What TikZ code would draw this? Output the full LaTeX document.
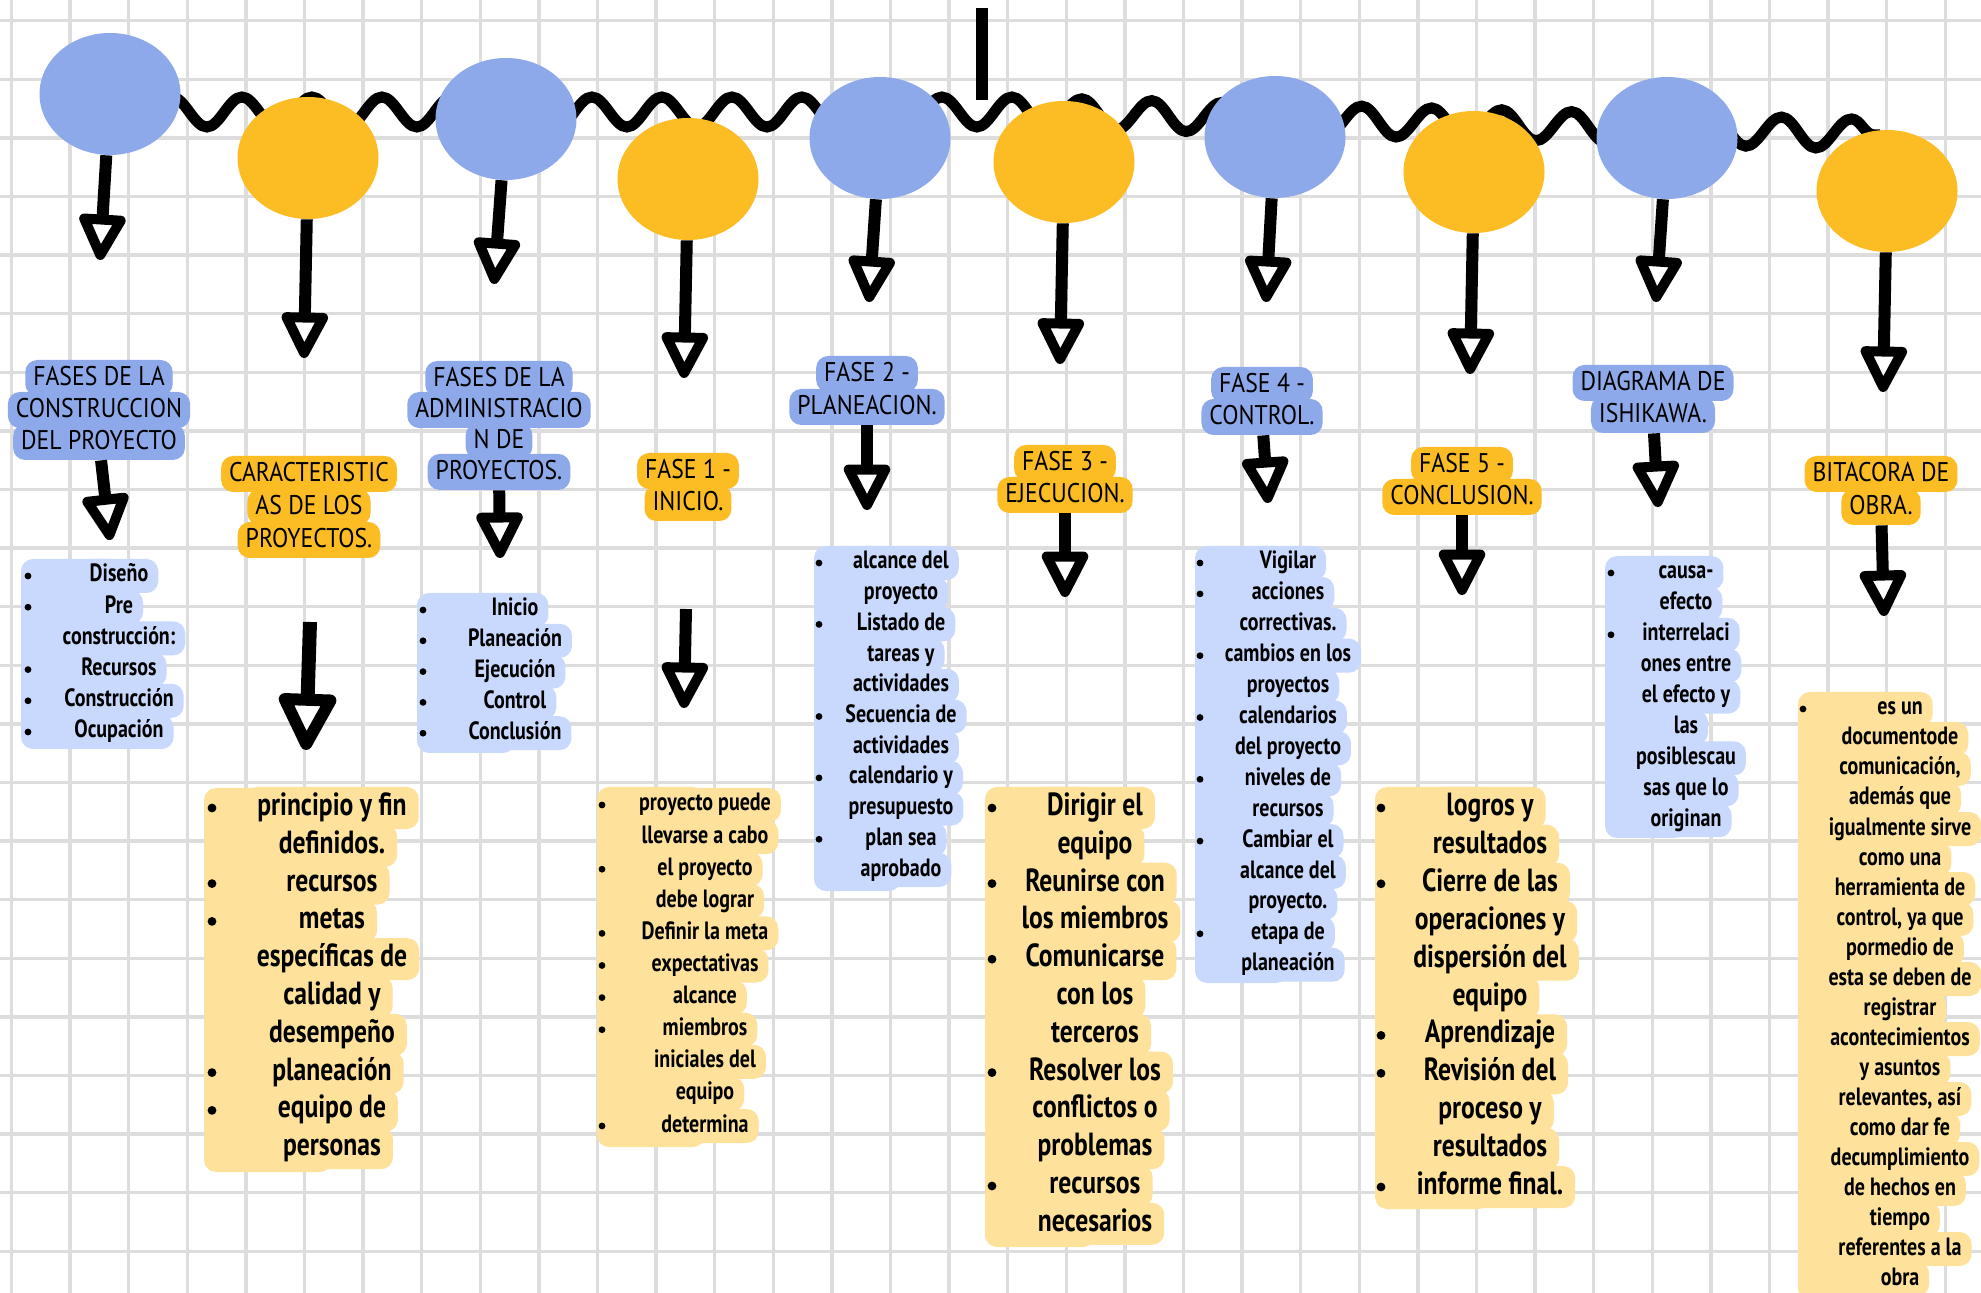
\documentclass[tikz,border=0pt]{standalone}
\usepackage{fontspec}
\usetikzlibrary{shapes.geometric,arrows.meta,decorations.pathmorphing}
\newfontfamily\hdrfont[FakeStretch=0.88]{PT Sans}
\newfontfamily\lstfont[FakeStretch=0.8]{PT Sans Bold}
\definecolor{gridgray}{HTML}{DDDDDD}
\definecolor{ballblue}{HTML}{8EA9E9}
\definecolor{ballyel}{HTML}{FBBC24}
\definecolor{lstblue}{HTML}{C9D9FD}
\definecolor{lstyel}{HTML}{FEE19A}

\begin{document}
\begin{tikzpicture}[x=0.5pt, y=-0.5pt,
  gridline/.style={draw=gridgray, line width=1.7pt},
  rope/.style={line width=5.5pt, decorate, decoration={snake, amplitude=7.5pt, segment length=35pt}},
  ball/.style={ellipse, minimum width=70.5pt, minimum height=61pt, inner sep=0pt},
  arr/.style={line width=6pt, -{Triangle[round, fill=white, line width=5pt, length=26pt, width=25pt]}},
  bigarr/.style={line width=7pt, -{Triangle[round, fill=white, line width=6pt, length=32pt, width=31pt]}},
  hdr/.style={font=\hdrfont\fontsize{13.5pt}{15pt}\selectfont, text height=9.6pt, text depth=2.4pt, inner ysep=3pt, inner xsep=4pt, rounded corners=6pt},
  lst/.style={font=\lstfont\fontsize{12.5pt}{14pt}\selectfont, text height=9pt, text depth=3pt, inner ysep=2.5pt, inner xsep=5pt, rounded corners=6pt},
  biglst/.style={font=\lstfont\fontsize{16pt}{18pt}\selectfont, text height=11.5pt, text depth=4pt, inner ysep=2.75pt, inner xsep=6pt, rounded corners=6pt},
  dot/.style={circle, fill=black, minimum size=3.4pt, inner sep=0pt},
  bigdot/.style={circle, fill=black, minimum size=4.4pt, inner sep=0pt}]
\useasboundingbox (0,0) rectangle (1981,1293);
\fill[white] (0,0) rectangle (1981,1293);
% cuadricula
\foreach \i in {0,...,33}
  \draw[gridline] ({11.5+58.6*\i},0) -- ({11.5+58.6*\i},1293);
\foreach \j in {0,...,21}
  \draw[gridline] (0,{20.7+58.6*\j}) -- (1981,{20.7+58.6*\j});

% cuerda
\coordinate (r0) at (150,112);
\coordinate (r1) at (1000,112);
\coordinate (r2) at (1880,135);
\draw[rope] (r0) -- (r1) -- (r2);
\coordinate (k0) at (982,8);
\coordinate (k1) at (982,100);
\draw[line width=6pt] (k0) -- (k1);

% bolas
\node[ball, fill=ballblue] (c1) at (110,94) {};
\node[ball, fill=ballyel] (c2) at (308,158) {};
\node[ball, fill=ballblue] (c3) at (506,119) {};
\node[ball, fill=ballyel] (c4) at (688,179) {};
\node[ball, fill=ballblue] (c5) at (880,138) {};
\node[ball, fill=ballyel] (c6) at (1064,162) {};
\node[ball, fill=ballblue] (c7) at (1275,137) {};
\node[ball, fill=ballyel] (c8) at (1474,172) {};
\node[ball, fill=ballblue] (c9) at (1667,138) {};
\node[ball, fill=ballyel] (c10) at (1887,191) {};

\coordinate (t1) at (100,260);
\coordinate (t2) at (304,358);
\coordinate (t3) at (494,284);
\coordinate (t4) at (684,378);
\coordinate (t5) at (869,302);
\coordinate (t6) at (1060,364);
\coordinate (t7) at (1266,302);
\coordinate (t8) at (1470,374);
\coordinate (t9) at (1656,302);
\coordinate (t10) at (1883,392);
\draw[arr] (c1) -- (t1);
\draw[arr] (c2) -- (t2);
\draw[arr] (c3) -- (t3);
\draw[arr] (c4) -- (t4);
\draw[arr] (c5) -- (t5);
\draw[arr] (c6) -- (t6);
\draw[arr] (c7) -- (t7);
\draw[arr] (c8) -- (t8);
\draw[arr] (c9) -- (t9);
\draw[arr] (c10) -- (t10);

% titulos
\foreach \t [count=\i] in {FASES DE LA, CONSTRUCCION, DEL PROYECTO}
  \node[hdr, fill=ballblue] (h1-\i) at (99, {346+32*\i}) {\t};
\foreach \t [count=\i] in {CARACTERISTIC, AS DE LOS, PROYECTOS.}
  \node[hdr, fill=ballyel] (h2-\i) at (309, {441+33*\i}) {\t};
\foreach \t [count=\i] in {FASES DE LA, ADMINISTRACIO, N DE, PROYECTOS.}
  \node[hdr, fill=ballblue] (h3-\i) at (499, {348+31*\i}) {\t};
\foreach \t [count=\i] in {FASE 1 -, INICIO.}
  \node[hdr, fill=ballyel] (h4-\i) at (688, {439+32*\i}) {\t};
\foreach \t [count=\i] in {FASE 2 -, PLANEACION.}
  \node[hdr, fill=ballblue] (h5-\i) at (867, {341+33*\i}) {\t};
\foreach \t [count=\i] in {FASE 3 -, EJECUCION.}
  \node[hdr, fill=ballyel] (h6-\i) at (1065, {431+32*\i}) {\t};
\foreach \t [count=\i] in {FASE 4 -, CONTROL.}
  \node[hdr, fill=ballblue] (h7-\i) at (1262, {353+32*\i}) {\t};
\foreach \t [count=\i] in {FASE 5 -, CONCLUSION.}
  \node[hdr, fill=ballyel] (h8-\i) at (1462, {433+32*\i}) {\t};
\foreach \t [count=\i] in {DIAGRAMA DE, ISHIKAWA.}
  \node[hdr, fill=ballblue] (h9-\i) at (1653, {351+32*\i}) {\t};
\foreach \t [count=\i] in {BITACORA DE, OBRA.}
  \node[hdr, fill=ballyel] (h10-\i) at (1881, {441+33*\i}) {\t};

\coordinate (a1) at (110,540);
\coordinate (s2) at (310,622);
\coordinate (a2) at (306,750);
\coordinate (a3) at (500,558);
\coordinate (s4) at (686,609);
\coordinate (a4) at (684,708);
\coordinate (a5) at (867,510);
\coordinate (a6) at (1065,597);
\coordinate (a7) at (1268,503);
\coordinate (a8) at (1462,595);
\coordinate (a9) at (1658,507);
\coordinate (a10) at (1884,616);
\draw[arr] (h1-3) -- (a1);
\draw[bigarr] (s2) -- (a2);
\draw[arr] (h3-4) -- (a3);
\draw[arr] (s4) -- (a4);
\draw[arr] (h5-2) -- (a5);
\draw[arr] (h6-2) -- (a6);
\draw[arr] (h7-2) -- (a7);
\draw[arr] (h8-2) -- (a8);
\draw[arr] (h9-2) -- (a9);
\draw[arr] (h10-2) -- (a10);

% listas
\fill[lstblue, rounded corners=6pt] (21,559) rectangle (119,749);
\foreach \t/\b [count=\i] in {Diseño/1, Pre/1, construcción:/0, Recursos/1, Construcción/1, Ocupación/1}{
  \node[lst, fill=lstblue] (l1-\i) at (119, {576+31.2*(\i-1)}) {\t};
  \ifnum\b=1 \node[dot] (d1-\i) at (28, {576+31.2*(\i-1)}) {}; \fi
}
\fill[lstyel, rounded corners=6pt] (204,788) rectangle (332,1172);
\foreach \t/\b [count=\i] in {principio y fin/1, definidos./0, recursos/1, metas/1, específicas de/0, calidad y/0, desempeño/0, planeación/1, equipo de/1, personas/0}{
  \node[biglst, fill=lstyel] (l2-\i) at (332, {808+37.8*(\i-1)}) {\t};
  \ifnum\b=1 \node[bigdot] (d2-\i) at (212, {808+37.8*(\i-1)}) {}; \fi
}
\fill[lstblue, rounded corners=6pt] (417,593) rectangle (515,753);
\foreach \t/\b [count=\i] in {Inicio/1, Planeación/1, Ejecución/1, Control/1, Conclusión/1}{
  \node[lst, fill=lstblue] (l3-\i) at (515, {610+30.8*(\i-1)}) {\t};
  \ifnum\b=1 \node[dot] (d3-\i) at (423, {610+30.8*(\i-1)}) {}; \fi
}
\fill[lstyel, rounded corners=6pt] (597,787) rectangle (705,1147);
\foreach \t/\b [count=\i] in {proyecto puede/1, llevarse a cabo/0, el proyecto/1, debe lograr/0, Definir la meta/1, expectativas/1, alcance/1, miembros/1, iniciales del/0, equipo/0, determina/1}{
  \node[lst, fill=lstyel] (l4-\i) at (705, {805+32.1*(\i-1)}) {\t};
  \ifnum\b=1 \node[dot] (d4-\i) at (602, {805+32.1*(\i-1)}) {}; \fi
}
\fill[lstblue, rounded corners=6pt] (814,546) rectangle (901,891);
\foreach \t/\b [count=\i] in {alcance del/1, proyecto/0, Listado de/1, tareas y/0, actividades/0, Secuencia de/1, actividades/0, calendario y/1, presupuesto/0, plan sea/1, aprobado/0}{
  \node[lst, fill=lstblue] (l5-\i) at (901, {563+30.7*(\i-1)}) {\t};
  \ifnum\b=1 \node[dot] (d5-\i) at (819, {563+30.7*(\i-1)}) {}; \fi
}
\fill[lstyel, rounded corners=6pt] (985,787) rectangle (1095,1247);
\foreach \t/\b [count=\i] in {Dirigir el/1, equipo/0, Reunirse con/1, los miembros/0, Comunicarse/1, con los/0, terceros/0, Resolver los/1, conflictos o/0, problemas/0, recursos/1, necesarios/0}{
  \node[biglst, fill=lstyel] (l6-\i) at (1095, {808+37.8*(\i-1)}) {\t};
  \ifnum\b=1 \node[bigdot] (d6-\i) at (992, {808+37.8*(\i-1)}) {}; \fi
}
\fill[lstblue, rounded corners=6pt] (1195,546) rectangle (1288,983);
\foreach \t/\b [count=\i] in {Vigilar/1, acciones/1, correctivas./0, cambios en los/1, proyectos/0, calendarios/1, del proyecto/0, niveles de/1, recursos/0, Cambiar el/1, alcance del/0, proyecto./0, etapa de/1, planeación/0}{
  \node[lst, fill=lstblue] (l7-\i) at (1288, {563+30.9*(\i-1)}) {\t};
  \ifnum\b=1 \node[dot] (d7-\i) at (1200, {563+30.9*(\i-1)}) {}; \fi
}
\fill[lstyel, rounded corners=6pt] (1375,787) rectangle (1490,1209);
\foreach \t/\b [count=\i] in {logros y/1, resultados/0, Cierre de las/1, operaciones y/0, dispersión del/0, equipo/0, Aprendizaje/1, Revisión del/1, proceso y/0, resultados/0, informe final./1}{
  \node[biglst, fill=lstyel] (l8-\i) at (1490, {808+37.9*(\i-1)}) {\t};
  \ifnum\b=1 \node[bigdot] (d8-\i) at (1381, {808+37.9*(\i-1)}) {}; \fi
}
\fill[lstblue, rounded corners=6pt] (1605,556) rectangle (1686,838);
\foreach \t/\b [count=\i] in {causa-/1, efecto/0, interrelaci/1, ones entre/0, el efecto y/0, las/0, posiblescau/0, sas que lo/0, originan/0}{
  \node[lst, fill=lstblue] (l9-\i) at (1686, {573+30.9*(\i-1)}) {\t};
  \ifnum\b=1 \node[dot] (d9-\i) at (1611, {573+30.9*(\i-1)}) {}; \fi
}
\fill[lstyel, rounded corners=6pt] (1798,692) rectangle (1900,1300);
\foreach \t/\b [count=\i] in {es un/1, documentode/0, {comunicación,}/0, además que/0, igualmente sirve/0, como una/0, herramienta de/0, {control, ya que}/0, pormedio de/0, esta se deben de/0, registrar/0, acontecimientos/0, y asuntos/0, {relevantes, así}/0, como dar fe/0, decumplimiento/0, de hechos en/0, tiempo/0, referentes a la/0, obra/0}{
  \node[lst, fill=lstyel] (l10-\i) at (1900, {709+30*(\i-1)}) {\t};
  \ifnum\b=1 \node[dot] (d10-\i) at (1803, {709+30*(\i-1)}) {}; \fi
}
\end{tikzpicture}
\end{document}
